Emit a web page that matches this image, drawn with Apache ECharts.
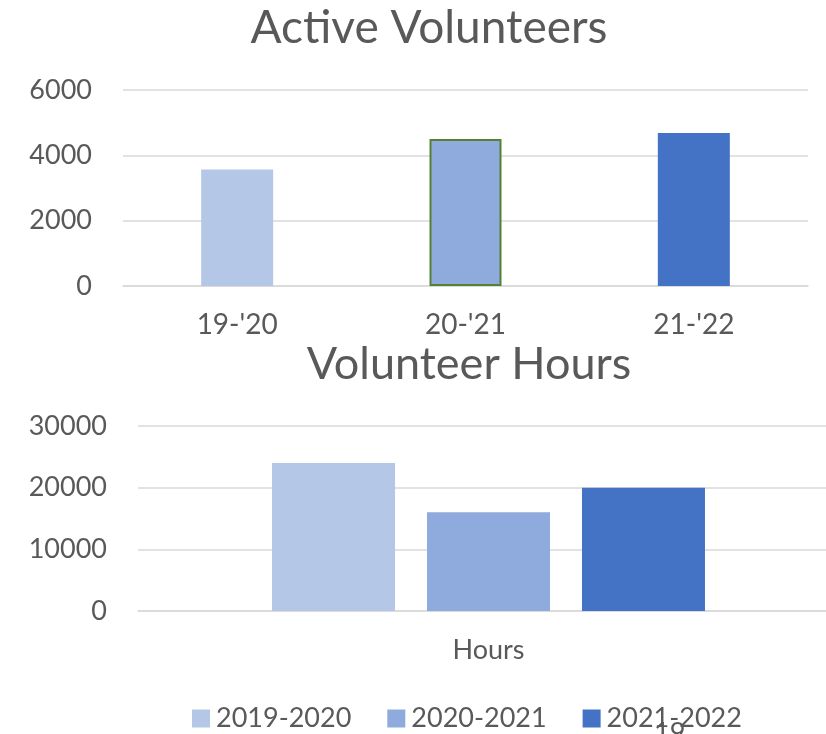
<!DOCTYPE html>
<html>
<head>
<meta charset="utf-8">
<script src="https://cdn.jsdelivr.net/npm/echarts@6/dist/echarts.min.js"></script>
<style>html,body{margin:0;padding:0;background:#fff;overflow:hidden}#c{width:840px;height:734px}</style>
</head>
<body>
<div id="c"></div>
<script>
const volunteerYears = ["19-'20", "20-'21", "21-'22"];
const activeVolunteers = [3570, 4500, 4680];
const hoursCategories = ["Hours"];
const seriesNames = ["2019-2020", "2020-2021", "2021-2022"];
const hours2019 = [24000];
const hours2020 = [16000];
const hours2021 = [20000];
const topTicks = { min: 0, max: 6000, interval: 2000 };
const bottomTicks = { min: 0, max: 30000, interval: 10000 };

const colors = ["#B4C7E7", "#8FAADC", "#4472C4"];
const txt = "#595959";
const font = "Lato";
const chart = echarts.init(document.getElementById('c'));
const gridLine = { show: true, lineStyle: { color: '#d9d9d9', width: 1.5 } };
const plain = v => String(v);

chart.setOption({
  animation: false,
  textStyle: { fontFamily: font, color: txt },
  title: [
    { text: 'Active Volunteers', left: 424, textAlign: 'center', top: 0, textStyle: { fontFamily: font, fontSize: 46, fontWeight: 'normal', color: txt } },
    { text: 'Volunteer Hours', left: 464, textAlign: 'center', top: 337, textStyle: { fontFamily: font, fontSize: 45, fontWeight: 'normal', color: txt } }
  ],
  legend: {
    data: seriesNames,
    left: 187, top: 700,
    itemWidth: 18, itemHeight: 18, itemGap: 36,
    icon: 'rect',
    textStyle: { fontFamily: font, fontSize: 27, color: txt, padding: [0, 0, 0, 1] }
  },
  grid: [
    { left: 123, width: 685, top: 90, height: 196, containLabel: false },
    { left: 138, width: 701, top: 426, height: 185, containLabel: false }
  ],
  xAxis: [
    { type: 'category', gridIndex: 0, data: volunteerYears,
      axisLine: { lineStyle: { color: '#d9d9d9', width: 1.5 } }, axisTick: { show: false },
      axisLabel: { fontFamily: font, fontSize: 28, color: txt, margin: 25 } },
    { type: 'category', gridIndex: 1, data: hoursCategories,
      axisLine: { lineStyle: { color: '#d9d9d9', width: 1.5 } }, axisTick: { show: false },
      axisLabel: { fontFamily: font, fontSize: 27, color: txt, margin: 26 } }
  ],
  yAxis: [
    { type: 'value', gridIndex: 0, min: topTicks.min, max: topTicks.max, interval: topTicks.interval,
      axisLine: { show: false }, axisTick: { show: false }, splitLine: gridLine,
      axisLabel: { fontFamily: font, fontSize: 27, color: txt, margin: 31, formatter: plain } },
    { type: 'value', gridIndex: 1, min: bottomTicks.min, max: bottomTicks.max, interval: bottomTicks.interval,
      axisLine: { show: false }, axisTick: { show: false }, splitLine: gridLine,
      axisLabel: { fontFamily: font, fontSize: 27, color: txt, margin: 31, formatter: plain } }
  ],
  series: [
    { type: 'bar', name: 'Active Volunteers', xAxisIndex: 0, yAxisIndex: 0, barWidth: 72,
      data: activeVolunteers.map((v, i) => ({
        value: v,
        itemStyle: i === 1 ? { color: colors[i], borderColor: '#548235', borderWidth: 2 } : { color: colors[i] }
      })) },
    { type: 'bar', name: seriesNames[0], xAxisIndex: 1, yAxisIndex: 1, barWidth: 123, barGap: '26%', data: hours2019, itemStyle: { color: colors[0] } },
    { type: 'bar', name: seriesNames[1], xAxisIndex: 1, yAxisIndex: 1, barWidth: 123, barGap: '26%', data: hours2020, itemStyle: { color: colors[1] } },
    { type: 'bar', name: seriesNames[2], xAxisIndex: 1, yAxisIndex: 1, barWidth: 123, barGap: '26%', data: hours2021, itemStyle: { color: colors[2] } }
  ],
  graphic: [
    { type: 'text', left: 654, top: 720, style: { text: '19', fontFamily: font, fontSize: 27, fill: txt } }
  ]
});
</script>
</body>
</html>
